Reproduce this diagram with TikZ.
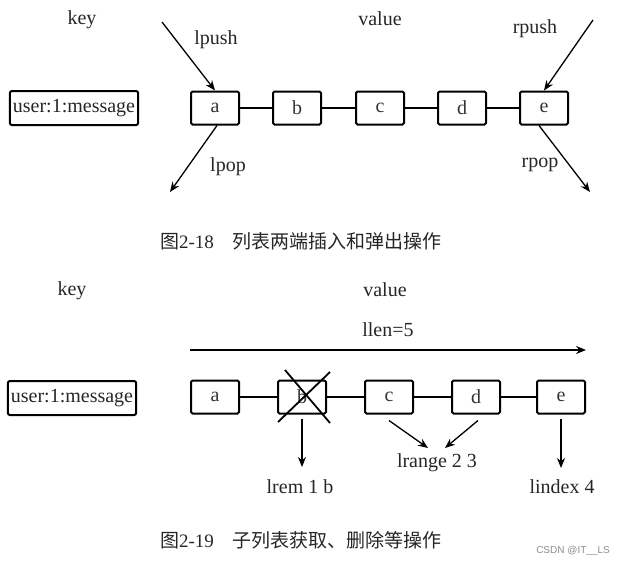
\documentclass[tikz,border=0pt]{standalone}
\usepackage{fontspec}
\setmainfont{Liberation Serif}
\newfontfamily\cjk{Noto Sans CJK SC}
\newfontfamily\wm{Liberation Sans}
\usetikzlibrary{arrows.meta}
\begin{document}
\begin{tikzpicture}[x=1pt,y=-1pt,
  lbl/.style={font=\fontsize{20}{22}\selectfont, text=black!85, inner sep=0},
  cell/.style={draw, line width=2pt, minimum width=48pt, minimum height=33pt, inner sep=0, rounded corners=1.5pt, font=\fontsize{20}{22}\selectfont, text=black!80},
  keybox/.style={draw, line width=2pt, minimum height=34pt, inner xsep=3pt, inner ysep=0, rounded corners=2pt, font=\fontsize{20}{22}\selectfont, text=black!85},
  link/.style={line width=1.1pt},
  arr/.style={line width=1.3pt, -{Stealth[length=10pt,width=8pt]}},
  captxt/.style={font=\cjk\fontsize{19}{21}\selectfont, text=black!85, inner sep=0}]
\useasboundingbox (0,0) rectangle (627,566);
% ---------- top figure ----------
\node[lbl] (key1) at (82,20) {key};
\node[lbl] (val1) at (380,19) {value};
\node[keybox] (k1) at (74,108) {user:1:message};
\node[cell] (a1) at (215,108) {a};
\node[cell] (b1) at (297,108) {b};
\node[cell] (c1) at (380,108) {c};
\node[cell] (d1) at (462,108) {d};
\node[cell] (e1) at (544,108) {e};
\draw[link] (a1) -- (b1);
\draw[link] (b1) -- (c1);
\draw[link] (c1) -- (d1);
\draw[link] (d1) -- (e1);
\coordinate (lpushS) at (162,22);
\coordinate (lpopE) at (170,192);
\coordinate (rpushS) at (593,20);
\coordinate (rpopE) at (590,192);
\draw[arr] (lpushS) -- (a1.north);
\draw[arr] ([xshift=2pt]a1.south) -- (lpopE);
\draw[arr] (rpushS) -- (e1.north);
\draw[arr] ([xshift=-5pt]e1.south) -- (rpopE);
\node[lbl] (lpush) at (216,40) {lpush};
\node[lbl] (lpop) at (228,167) {lpop};
\node[lbl] (rpush) at (535,29) {rpush};
\node[lbl] (rpop) at (540,165) {rpop};
\node[captxt] (cap1) at (301,241) {图{\rmfamily 2-18}\hspace{1em}列表两端插入和弹出操作};
% ---------- bottom figure ----------
\node[lbl] (key2) at (72,291) {key};
\node[lbl] (val2) at (385,290) {value};
\node[lbl] (llen) at (388,330) {llen=5};
\coordinate (llenS) at (190,350);
\coordinate (llenE) at (586,350);
\draw[arr] (llenS) -- (llenE);
\node[keybox] (k2) at (72,398) {user:1:message};
\node[cell] (a2) at (215,397) {a};
\node[cell] (b2) at (302,397) {b};
\node[cell] (c2) at (389,397) {c};
\node[cell] (d2) at (476,397) {d};
\node[cell] (e2) at (561,397) {e};
\draw[link] (a2) -- (b2);
\draw[link] (b2) -- (c2);
\draw[link] (c2) -- (d2);
\draw[link] (d2) -- (e2);
\coordinate (x1a) at (285,370);
\coordinate (x1b) at (330,423);
\coordinate (x2a) at (330,372);
\coordinate (x2b) at (278,422);
\draw[line width=1.8pt] (x1a) -- (x1b);
\draw[line width=1.8pt] (x2a) -- (x2b);
\node[lbl] (lrem) at (300,487) {lrem 1 b};
\node[lbl] (lrange) at (437,463) {lrange 2 3};
\node[lbl] (lindex) at (562,487) {lindex 4};
\coordinate (lremE) at (302,467);
\coordinate (lindexE) at (561,468);
\coordinate (lr1) at (428,448);
\coordinate (lr2) at (445,448);
\draw[arr] ([yshift=-4pt]b2.south) -- (lremE);
\draw[arr] ([yshift=-6pt]c2.south) -- (lr1);
\draw[arr] ([yshift=-6pt,xshift=2pt]d2.south) -- (lr2);
\draw[arr] ([yshift=-4pt]e2.south) -- (lindexE);
\node[captxt] (cap2) at (301,540) {图{\rmfamily 2-19}\hspace{1em}子列表获取、删除等操作};
\node[font=\wm\fontsize{10}{12}\selectfont, text=black!45, inner sep=0] (wm) at (573,551) {CSDN @IT\_\_LS};
\end{tikzpicture}
\end{document}
